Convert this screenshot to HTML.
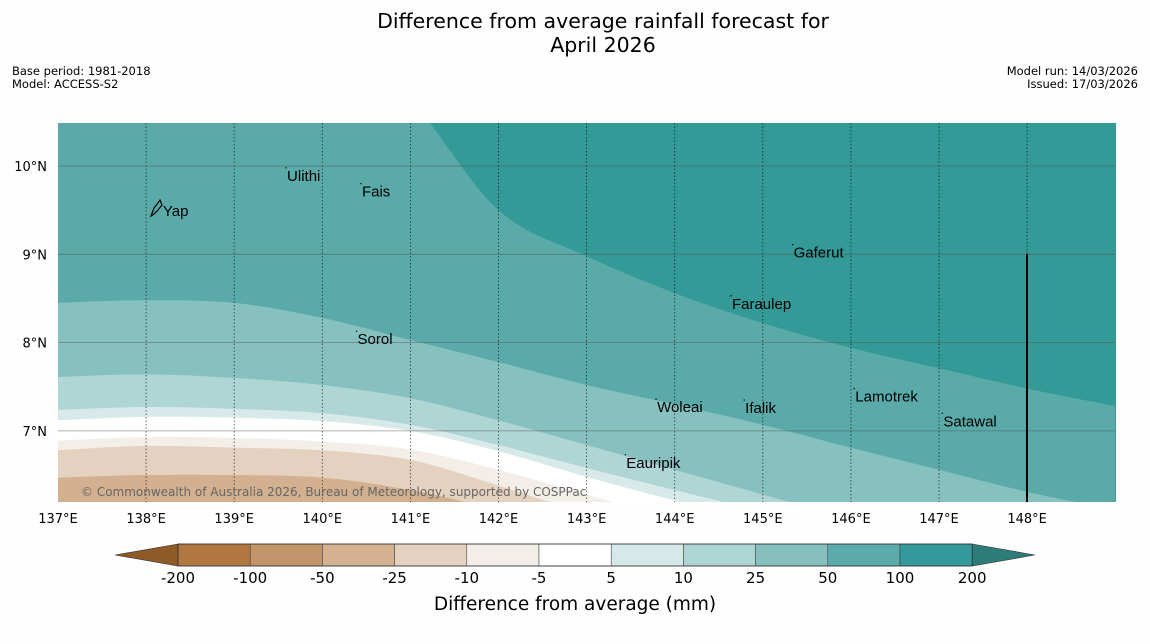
<!DOCTYPE html>
<html><head><meta charset="utf-8"><style>
html,body{margin:0;background:#fefefe;font-family:"DejaVu Sans","Liberation Sans",sans-serif;overflow:hidden;width:1150px;height:644px;}
svg{display:block}
</style></head><body>
<svg id="chart" width="1150" height="644" xmlns="http://www.w3.org/2000/svg">
<rect width="1150" height="644" fill="#fefefe"/>
<text x="603" y="28" font-size="20.5" text-anchor="middle" font-family="DejaVu Sans, sans-serif">Difference from average rainfall forecast for</text>
<text x="603" y="52" font-size="20.5" text-anchor="middle" font-family="DejaVu Sans, sans-serif">April 2026</text>
<text x="12" y="75" font-size="11.5">Base period: 1981-2018</text>
<text x="12" y="88" font-size="11.5">Model: ACCESS-S2</text>
<text x="1138" y="75" font-size="11.5" text-anchor="end">Model run: 14/03/2026</text>
<text x="1138" y="88" font-size="11.5" text-anchor="end">Issued: 17/03/2026</text>
<defs><clipPath id="mapclip"><rect x="58" y="123" width="1058" height="379"/></clipPath></defs>
<g id="map" clip-path="url(#mapclip)"></g>
<g id="overlay"></g>
<g id="legend"></g>
</svg>
<script>
const lons = [137,138,139,140,141,142,143,144,145,146,147,148,149];
const b100 = [11.8,11.8,11.8,11.6,10.75,9.5,8.98,8.56,8.22,7.94,7.71,7.48,7.28];
const b50  = [8.45,8.48,8.45,8.28,8.03,7.78,7.52,7.30,7.07,6.81,6.56,6.31,6.11];
const b25  = [7.61,7.64,7.60,7.52,7.37,7.12,6.84,6.56,6.28,6.0,5.7,5.4,5.1];
const b10  = [7.24,7.27,7.25,7.20,7.07,6.84,6.58,6.33,6.08,5.8,5.5,5.2,4.9];
const b5   = [7.12,7.16,7.15,7.11,7.0,6.77,6.48,6.21,5.95,5.7,5.4,5.1,4.8];
const bm5  = [6.89,6.93,6.92,6.88,6.79,6.56,6.28,6.0,5.7,5.4,5.1,4.8,4.5];
const bm10 = [6.78,6.83,6.81,6.78,6.67,6.38,6.05,5.7,5.4,5.1,4.8,4.5,4.2];
const bm25 = [6.47,6.50,6.50,6.47,6.33,6.1,5.8,5.5,5.2,4.9,4.6,4.3,4.0];
const levels = ["-200","-100","-50","-25","-10","-5","5","10","25","50","100","200"];
const xTicks = [137,138,139,140,141,142,143,144,145,146,147,148];
const yTicks = [7,8,9,10];
const islandNames = ["Yap","Ulithi","Fais","Sorol","Gaferut","Faraulep","Woleai","Ifalik","Lamotrek","Satawal","Eauripik"];
const islandLon = [138.1,139.6,140.45,140.4,145.35,144.65,143.8,144.8,146.05,147.05,143.45];
const islandLat = [9.5,9.9,9.72,8.05,9.03,8.45,7.28,7.27,7.4,7.12,6.65];

const NS="http://www.w3.org/2000/svg";
const X = lon => 58 + (lon-137)*88.1;
const Y = lat => 166 - (lat-10)*88.3;
function mk(tag, attrs, parent){const e=document.createElementNS(NS,tag);for(const k in attrs)e.setAttribute(k,attrs[k]);parent.appendChild(e);return e;}
function smooth(pts){
  let d='M'+pts[0][0]+','+pts[0][1];
  for(let i=0;i<pts.length-1;i++){
    const p0=pts[Math.max(0,i-1)],p1=pts[i],p2=pts[i+1],p3=pts[Math.min(pts.length-1,i+2)];
    const c1=[p1[0]+(p2[0]-p0[0])/6,p1[1]+(p2[1]-p0[1])/6];
    const c2=[p2[0]-(p3[0]-p1[0])/6,p2[1]-(p3[1]-p1[1])/6];
    d+=` C${c1[0]},${c1[1]} ${c2[0]},${c2[1]} ${p2[0]},${p2[1]}`;
  }
  return d;
}
const map=document.getElementById('map');
const ov=document.getElementById('overlay');
const bg=mk('rect',{x:58,y:123,width:1058,height:379,fill:'#339a97'},map);


const bands=[[b100,'#5aaaa9','band-50-100'],[b50,'#86c0bf','band-25-50'],[b25,'#afd5d5','band-10-25'],[b10,'#d7e9e8','band-5-10'],[b5,'#ffffff','band-minus5-5'],[bm5,'#f3eee8','band-minus10-minus5'],[bm10,'#e4d1bf','band-minus25-minus10'],[bm25,'#d3b08f','band-minus50-minus25']];
bands.forEach(([arr,col,name])=>{
  const pts=lons.map((l,i)=>[X(l),Y(arr[i])]);
  let d=smooth(pts);
  d+=' L'+X(149)+',700 L'+X(137)+',700 Z';
  const p=mk('path',{d:d,fill:col},map);
  
  
});
xTicks.forEach(l=>{ if(l>137){const g=mk('line',{x1:X(l),x2:X(l),y1:123,y2:502,stroke:'#000','stroke-width':0.8,'stroke-dasharray':'1.5,2','stroke-opacity':0.7},ov);
 
 }
 const t=mk('text',{x:X(l),y:523,'font-size':13,'text-anchor':'middle'},ov);t.textContent=l+'°E';
 
 
});
yTicks.forEach(l=>{const g=mk('line',{x1:58,x2:1116,y1:Y(l),y2:Y(l),stroke:'#555','stroke-width':0.8,'stroke-opacity':0.6},ov);
 
 
 const t=mk('text',{x:47,y:Y(l)+5,'font-size':13,'text-anchor':'end'},ov);t.textContent=l+'°N';
 
 
});
const vl=mk('line',{x1:1027,x2:1027,y1:254,y2:502,stroke:'#000','stroke-width':2},ov);


const yap=mk('path',{d:'M151,216 L154,208 L158,203 L160,200 L162,205 L158,210 L154,214 Z',fill:'none',stroke:'#000','stroke-width':1.2},ov);


islandNames.forEach((n,i)=>{
  const t=mk('text',{x:X(islandLon[i])+(n==='Yap'?8:0),y:Y(islandLat[i])+6,'font-size':15,'font-family':'Liberation Sans, sans-serif'},ov);
  t.textContent=n;
  
  
  if(n!=='Yap'){const d=mk('circle',{cx:X(islandLon[i])-1,cy:Y(islandLat[i])-7,r:0.7,fill:'#000'},ov);
  
  }
});
const cr=mk('text',{x:81,y:496,'font-size':12,fill:'#666'},ov);
cr.textContent='© Commonwealth of Australia 2026, Bureau of Meteorology, supported by COSPPac';


const lg=document.getElementById('legend');
const cols=['#b07840','#c19469','#d4b190','#e4d1bf','#f3eee8','#ffffff','#d5e9e8','#acd5d4','#85c0bf','#5aabaa','#33999a'];
const x0=178,w=72.2,y0=544,h=22;
const lt=mk('path',{d:`M${x0},${y0} L115,${y0+h/2} L${x0},${y0+h} Z`,fill:'#8d5a28',stroke:'#333','stroke-width':0.6},lg);


const rt=mk('path',{d:`M${x0+11*w},${y0} L1035,${y0+h/2} L${x0+11*w},${y0+h} Z`,fill:'#2e7c7a',stroke:'#333','stroke-width':0.6},lg);


cols.forEach((c,i)=>{const r=mk('rect',{x:x0+i*w,y:y0,width:w,height:h,fill:c,stroke:'#333','stroke-width':0.5},lg);
 
 });
mk('rect',{x:x0,y:y0,width:11*w,height:h,fill:'none',stroke:'#333','stroke-width':0.8},lg);
levels.forEach((l,i)=>{const t=mk('text',{x:x0+i*w,y:583,'font-size':15,'text-anchor':'middle'},lg);t.textContent=l;
 
 });
const lt2=mk('text',{x:575,y:610,'font-size':18.5,'text-anchor':'middle'},lg);
lt2.textContent='Difference from average (mm)';


</script>
</body></html>
